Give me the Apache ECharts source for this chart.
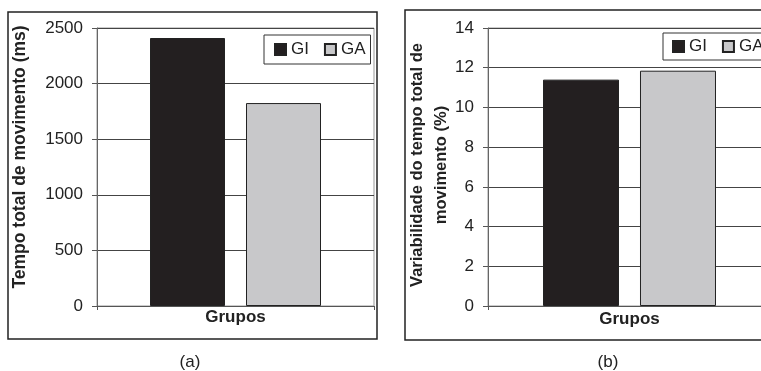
<!DOCTYPE html>
<html>
<head>
<meta charset="utf-8">
<script src="https://cdn.jsdelivr.net/npm/echarts@6/dist/echarts.min.js"></script>
<style>html,body{margin:0;padding:0;background:#fff}#c{width:761px;height:371px}</style>
</head>
<body>
<div id="c"></div>
<script>
const categories = ['Grupos'];
const seriesNames = ['GI', 'GA'];
const timeGI = [2410];
const timeGA = [1825];
const varGI = [11.4];
const varGA = [11.85];
const timeTicks = {min: 0, max: 2500, interval: 500};
const varTicks = {min: 0, max: 14, interval: 2};

const FONT = 'Liberation Sans, Arial, sans-serif';
const chart = echarts.init(document.getElementById('c'), null, {renderer: 'canvas'});

function yAxis(gridIndex, t) {
  return {
    type: 'value', gridIndex, min: t.min, max: t.max, interval: t.interval,
    axisLine: {show: true, lineStyle: {color: '#666', width: 1}},
    axisTick: {show: true, length: 5, lineStyle: {color: '#555'}},
    axisLabel: {color: '#222', fontFamily: FONT, fontSize: 17, margin: 14, formatter: v => String(v)},
    splitLine: {show: true, lineStyle: {color: '#444', width: 1}}
  };
}
function xAxis(gridIndex, margin) {
  return {
    type: 'category', gridIndex, data: categories,
    axisLine: {show: true, lineStyle: {color: '#555', width: 1}},
    axisTick: {show: true, length: 4, lineStyle: {color: '#555'}},
    axisLabel: {color: '#222', fontFamily: FONT, fontSize: 17, fontWeight: 'bold', margin}
  };
}
function legend(left, top, pad) {
  return {
    left, top, width: 200, orient: 'horizontal', data: seriesNames, icon: 'rect',
    itemWidth: 11, itemHeight: 11, itemGap: 15,
    padding: pad, borderColor: '#333', borderWidth: 1, backgroundColor: '#fff',
    textStyle: {fontFamily: FONT, fontSize: 17, color: '#222', lineHeight: 17},
    selectedMode: false
  };
}
const barStyleGI = {color: '#231f20', borderColor: '#222', borderWidth: 1};
const barStyleGA = {color: '#c8c8ca', borderColor: '#222', borderWidth: 1};

chart.setOption({
  animation: false,
  backgroundColor: '#fff',
  grid: [
    {left: 97, top: 28, width: 277, height: 278, outerBoundsMode: 'none', containLabel: false, show: true, borderColor: '#999', borderWidth: 1, backgroundColor: 'transparent'},
    {left: 488, top: 28, width: 283, height: 278, outerBoundsMode: 'none', containLabel: false, show: true, borderColor: '#999', borderWidth: 1, backgroundColor: 'transparent'}
  ],
  xAxis: [xAxis(0, 3), xAxis(1, 5)],
  yAxis: [yAxis(0, timeTicks), yAxis(1, varTicks)],
  legend: [legend(264, 35, [6, 5, 6, 10]), legend(663, 33, [5, 5, 5, 9])],
  series: [
    {name: 'GI', type: 'bar', xAxisIndex: 0, yAxisIndex: 0, data: timeGI, barWidth: 75, barGap: '28%', itemStyle: barStyleGI},
    {name: 'GA', type: 'bar', xAxisIndex: 0, yAxisIndex: 0, data: timeGA, barWidth: 75, barGap: '28%', itemStyle: barStyleGA},
    {name: 'GI', type: 'bar', xAxisIndex: 1, yAxisIndex: 1, data: varGI, barWidth: 76, barGap: '27.6%', itemStyle: barStyleGI},
    {name: 'GA', type: 'bar', xAxisIndex: 1, yAxisIndex: 1, data: varGA, barWidth: 76, barGap: '27.6%', itemStyle: barStyleGA}
  ],
  graphic: [
    {type: 'rect', shape: {x: 8, y: 12, width: 369, height: 327}, style: {fill: 'none', stroke: '#222', lineWidth: 1.5}, z: 100, silent: true},
    {type: 'rect', shape: {x: 405, y: 10, width: 420, height: 330}, style: {fill: 'none', stroke: '#222', lineWidth: 1.5}, z: 100, silent: true},
    {type: 'text', x: 20, y: 157, rotation: Math.PI / 2,
      style: {text: 'Tempo total de movimento (ms)', font: 'bold 17.5px ' + FONT, fill: '#222', align: 'center', verticalAlign: 'middle'}},
    {type: 'text', x: 417.5, y: 165, rotation: Math.PI / 2,
      style: {text: 'Variabilidade do tempo total de', font: 'bold 16.5px ' + FONT, fill: '#222', align: 'center', verticalAlign: 'middle'}},
    {type: 'text', x: 441.5, y: 165, rotation: Math.PI / 2,
      style: {text: 'movimento (%)', font: 'bold 16.5px ' + FONT, fill: '#222', align: 'center', verticalAlign: 'middle'}},
    {type: 'text', x: 190, y: 362, style: {text: '(a)', font: '17px ' + FONT, fill: '#222', align: 'center', verticalAlign: 'middle'}},
    {type: 'text', x: 608, y: 362, style: {text: '(b)', font: '17px ' + FONT, fill: '#222', align: 'center', verticalAlign: 'middle'}}
  ]
});
</script>
</body>
</html>
